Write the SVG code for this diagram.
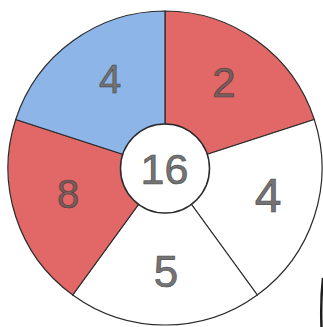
<svg xmlns="http://www.w3.org/2000/svg" width="323" height="327" viewBox="0 0 323 327">
<style>
.sec{stroke:#2a2a2a;stroke-width:1.2;stroke-linejoin:round}
.red{fill:#e26868}
.blue{fill:#8db5e8}
.white{fill:#ffffff}
.num{font-family:"Liberation Sans",Arial,sans-serif;fill:#747474;stroke:#444444;stroke-width:0.6;text-anchor:middle}
.onc{fill:#7a5c5c;stroke:#4a3a3a}
</style>
<rect width="323" height="327" fill="#ffffff"/>
<g id="sector-2">
<path class="sec red" d="M165,168 L165,11 A157,157 0 0 1 314.3,119.5 Z"/>
<text class="num onc" x="224" y="97" font-size="42">2</text>
</g>
<g id="sector-4-right">
<path class="sec white" d="M165,168 L314.3,119.5 A157,157 0 0 1 257.3,295 Z"/>
<text class="num" x="268" y="212" font-size="48">4</text>
</g>
<g id="sector-5">
<path class="sec white" d="M165,168 L257.3,295 A157,157 0 0 1 72.7,295 Z"/>
<text class="num" x="166" y="287" font-size="44">5</text>
</g>
<g id="sector-8">
<path class="sec red" d="M165,168 L72.7,295 A157,157 0 0 1 15.7,119.5 Z"/>
<text class="num onc" x="68" y="208" font-size="40">8</text>
</g>
<g id="sector-4-left">
<path class="sec blue" d="M165,168 L15.7,119.5 A157,157 0 0 1 165,11 Z"/>
<text class="num" x="110" y="93" font-size="40">4</text>
</g>
<g id="center-16">
<circle cx="165" cy="168.5" r="44.5" fill="#ffffff" stroke="#2a2a2a" stroke-width="1.5"/>
<text class="num" x="164.5" y="184" font-size="43">16</text>
</g>
<path d="M323,278 Q320.5,300 321.5,327" fill="none" stroke="#1e1e1e" stroke-width="2.5"/>
</svg>
